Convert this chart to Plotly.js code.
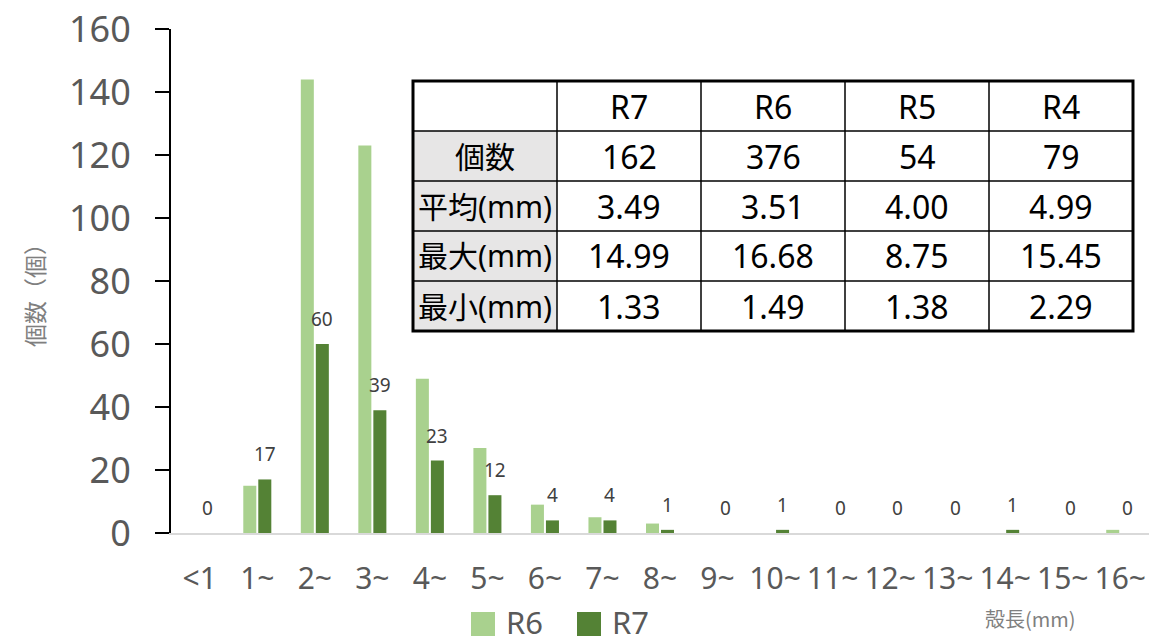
<!DOCTYPE html>
<html>
<head>
<meta charset="utf-8">
<script src="https://cdn.plot.ly/plotly-3.0.1.min.js"></script>
<style>
html,body{margin:0;padding:0;background:#fff;}
#chart{width:1150px;height:644px;}
</style>
</head>
<body>
<div id="chart"></div>
<script>
// ---- data ----
const categories = ['<1','1~','2~','3~','4~','5~','6~','7~','8~','9~','10~','11~','12~','13~','14~','15~','16~'];
const r6Values = [0, 15, 144, 123, 49, 27, 9, 5, 3, 0, 0, 0, 0, 0, 0, 0, 1];
const r7Values = [0, 17, 60, 39, 23, 12, 4, 4, 1, 0, 1, 0, 0, 0, 1, 0, 0];
const seriesNames = ['R6', 'R7'];
const seriesColors = ['#a9d18e', '#548235'];
const yTickValues = [0, 20, 40, 60, 80, 100, 120, 140, 160];
const yAxisTitle = '個数（個）';
const xAxisTitle = '殻長(mm)';

const tableHeader = ['', 'R7', 'R6', 'R5', 'R4'];
const tableRowLabels = ['個数', '平均(mm)', '最大(mm)', '最小(mm)'];
const tableCount = ['162', '376', '54', '79'];
const tableMean = ['3.49', '3.51', '4.00', '4.99'];
const tableMax = ['14.99', '16.68', '8.75', '15.45'];
const tableMin = ['1.33', '1.49', '1.38', '2.29'];

// ---- layout helpers (pixel -> paper) ----
const W = 1150, H = 644;
const M = {l: 171, r: 1, t: 29, b: 111, autoexpand: false};
const PW = W - M.l - M.r, PH = H - M.t - M.b;
const px = x => (x - M.l) / PW;
const py = y => (H - M.b - y) / PH;

const shapes = [];
const annotations = [];

// data labels for R7
categories.forEach((c, i) => {
  annotations.push({
    x: c, y: r7Values[i], xref: 'x', yref: 'y',
    text: String(r7Values[i]), showarrow: false,
    xshift: 7.5, yshift: 25, yanchor: 'middle', xanchor: 'center',
    font: {family: 'Noto Sans, sans-serif', size: 19, color: '#404040'}
  });
});

// table
const colEdges = [413, 557, 701, 845, 989, 1133];
const rowEdges = [81, 131, 181, 231, 281, 331];
const tableRows = [tableHeader,
  [tableRowLabels[0]].concat(tableCount),
  [tableRowLabels[1]].concat(tableMean),
  [tableRowLabels[2]].concat(tableMax),
  [tableRowLabels[3]].concat(tableMin)];

shapes.push({type: 'rect', xref: 'paper', yref: 'paper',
  x0: px(colEdges[0]), x1: px(colEdges[5]), y0: py(rowEdges[5]), y1: py(rowEdges[0]),
  fillcolor: '#ffffff', line: {width: 0}, layer: 'above'});
shapes.push({type: 'rect', xref: 'paper', yref: 'paper',
  x0: px(colEdges[0]), x1: px(colEdges[1]), y0: py(rowEdges[5]), y1: py(rowEdges[1]),
  fillcolor: '#e7e6e6', line: {width: 0}, layer: 'above'});
for (let k = 1; k < colEdges.length - 1; k++) {
  shapes.push({type: 'line', xref: 'paper', yref: 'paper',
    x0: px(colEdges[k]), x1: px(colEdges[k]), y0: py(rowEdges[5]), y1: py(rowEdges[0]),
    line: {color: '#000', width: 1.5}, layer: 'above'});
}
for (let k = 1; k < rowEdges.length - 1; k++) {
  shapes.push({type: 'line', xref: 'paper', yref: 'paper',
    x0: px(colEdges[0]), x1: px(colEdges[5]), y0: py(rowEdges[k]), y1: py(rowEdges[k]),
    line: {color: '#000', width: 1.5}, layer: 'above'});
}
shapes.push({type: 'rect', xref: 'paper', yref: 'paper',
  x0: px(colEdges[0]), x1: px(colEdges[5]), y0: py(rowEdges[5]), y1: py(rowEdges[0]),
  line: {color: '#000', width: 3}, layer: 'above'});

tableRows.forEach((row, r) => {
  row.forEach((txt, c) => {
    if (!txt) return;
    annotations.push({
      xref: 'paper', yref: 'paper',
      x: px((colEdges[c] + colEdges[c + 1]) / 2),
      y: py((rowEdges[r] + rowEdges[r + 1]) / 2),
      text: txt, showarrow: false, xanchor: 'center', yanchor: 'middle',
      font: {family: 'Noto Sans, Noto Sans CJK JP, sans-serif', size: c === 0 ? 30 : 32, color: '#000'}
    });
  });
});

// axis titles
annotations.push({xref: 'paper', yref: 'paper', x: px(34), y: py(290),
  text: yAxisTitle, textangle: -90, showarrow: false, xanchor: 'center', yanchor: 'middle',
  font: {family: 'Noto Sans CJK JP, sans-serif', size: 23, color: '#7f7f7f'}});
annotations.push({xref: 'paper', yref: 'paper', x: px(1030), y: py(618),
  text: xAxisTitle, showarrow: false, xanchor: 'center', yanchor: 'middle',
  font: {family: 'Noto Sans CJK JP, sans-serif', size: 20, color: '#7f7f7f'}});

// legend (swatches + labels)
const legendSwatchX = [471, 577];
seriesNames.forEach((name, i) => {
  const sx = legendSwatchX[i];
  shapes.push({type: 'rect', xref: 'paper', yref: 'paper',
    x0: px(sx), x1: px(sx + 24), y0: py(636), y1: py(612),
    fillcolor: seriesColors[i], line: {width: 0}});
  annotations.push({xref: 'paper', yref: 'paper', x: px(sx + 33), y: py(622),
    text: name, showarrow: false, xanchor: 'left', yanchor: 'middle',
    font: {family: 'Noto Sans, sans-serif', size: 31, color: '#595959'}});
});

const traces = [
  {type: 'bar', name: seriesNames[0], x: categories, y: r6Values,
   marker: {color: seriesColors[0], line: {width: 0}}, hoverinfo: 'skip'},
  {type: 'bar', name: seriesNames[1], x: categories, y: r7Values,
   marker: {color: seriesColors[1], line: {width: 0}}, hoverinfo: 'skip'}
];

const layout = {
  width: W, height: H,
  margin: M,
  paper_bgcolor: '#ffffff', plot_bgcolor: '#ffffff',
  barmode: 'group', bargap: 0.478, bargroupgap: 0.133,
  font: {family: 'Noto Sans, sans-serif', color: '#595959'},
  xaxis: {
    type: 'category', showline: true, linecolor: '#d9d9d9', linewidth: 2,
    ticks: '', showgrid: false, zeroline: false,
    tickfont: {family: 'Noto Sans, sans-serif', size: 30, color: '#595959'},
    ticklabelstandoff: 18, automargin: false
  },
  yaxis: {
    range: [0, 160], tickvals: yTickValues, showline: true, linecolor: '#000', linewidth: 2,
    ticks: 'outside', ticklen: 14, tickwidth: 2, tickcolor: '#000',
    showgrid: false, zeroline: false,
    tickfont: {family: 'Noto Sans, sans-serif', size: 36, color: '#595959'},
    ticklabelstandoff: 17, automargin: false
  },
  showlegend: false,
  shapes: shapes,
  annotations: annotations
};

Plotly.newPlot('chart', traces, layout, {staticPlot: true, displayModeBar: false});
</script>
</body>
</html>
